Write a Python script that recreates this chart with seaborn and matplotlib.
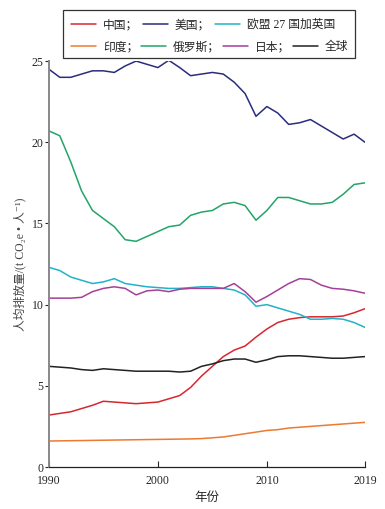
import matplotlib
matplotlib.use("Agg")
import matplotlib.pyplot as plt
import matplotlib.patches as mpatches
import seaborn as sns
import pandas as pd

years = list(range(1990, 2020))

china = [3.2, 3.3, 3.4, 3.6, 3.8, 4.05, 4.0, 3.95, 3.9, 3.95, 4.0, 4.2, 4.4, 4.9, 5.6,
         6.2, 6.8, 7.2, 7.45, 8.0, 8.5, 8.9, 9.1, 9.2, 9.25, 9.25, 9.25, 9.3, 9.5, 9.75]
usa = [24.5, 24.0, 24.0, 24.2, 24.4, 24.4, 24.3, 24.7, 25.0, 24.8, 24.6, 25.05, 24.6, 24.1, 24.2,
       24.3, 24.2, 23.7, 23.0, 21.6, 22.2, 21.8, 21.1, 21.2, 21.4, 21.0, 20.6, 20.2, 20.5, 20.0]
eu_uk = [12.3, 12.1, 11.7, 11.5, 11.3, 11.4, 11.6, 11.3, 11.2, 11.1, 11.05, 11.0, 11.0, 11.05, 11.1,
         11.1, 11.0, 10.9, 10.6, 9.9, 10.0, 9.8, 9.6, 9.4, 9.1, 9.1, 9.15, 9.1, 8.9, 8.6]
india = [1.60, 1.61, 1.62, 1.63, 1.64, 1.65, 1.66, 1.67, 1.68, 1.69, 1.70, 1.71, 1.72, 1.73, 1.75,
         1.80, 1.85, 1.95, 2.05, 2.15, 2.25, 2.30, 2.40, 2.45, 2.50, 2.55, 2.60, 2.65, 2.70, 2.75]
russia = [20.7, 20.4, 18.8, 17.0, 15.8, 15.3, 14.8, 14.0, 13.9, 14.2, 14.5, 14.8, 14.9, 15.5, 15.7,
          15.8, 16.2, 16.3, 16.1, 15.2, 15.8, 16.6, 16.6, 16.4, 16.2, 16.2, 16.3, 16.8, 17.4, 17.5]
japan = [10.4, 10.4, 10.4, 10.45, 10.8, 11.0, 11.1, 11.0, 10.6, 10.85, 10.9, 10.8, 10.95, 11.0, 11.0,
         11.0, 11.0, 11.3, 10.8, 10.15, 10.5, 10.9, 11.3, 11.6, 11.55, 11.2, 11.0, 10.95, 10.85, 10.7]
world = [6.2, 6.15, 6.1, 6.0, 5.95, 6.05, 6.0, 5.95, 5.9, 5.9, 5.9, 5.9, 5.85, 5.9, 6.2,
         6.35, 6.55, 6.65, 6.65, 6.45, 6.6, 6.8, 6.85, 6.85, 6.8, 6.75, 6.7, 6.7, 6.75, 6.8]

names = ["中国", "美国", "欧盟 27 国加英国", "印度", "俄罗斯", "日本", "全球"]
series = [china, usa, eu_uk, india, russia, japan, world]
colors = ["#d8262f", "#2a2d7c", "#20b3c9", "#ec7a32", "#23a468", "#a53f97", "#222222"]

df = pd.concat([pd.DataFrame({"年份": years, "值": s, "地区": n}) for n, s in zip(names, series)])

sns.set_style("ticks")
plt.rcParams["font.family"] = ["Liberation Serif", "Noto Sans CJK SC", "DejaVu Sans"]

fig = plt.figure(figsize=(3.85, 5.09), dpi=100)
ax = fig.add_axes([0.127, 0.0825, 0.821, 0.7975])

sns.lineplot(data=df, x="年份", y="值", hue="地区", hue_order=names,
             palette=dict(zip(names, colors)), linewidth=1.1, ax=ax, legend=False)

ax.set_xlim(1990, 2019)
ax.set_ylim(0, 25)
ax.set_xticks([1990, 2000, 2010, 2019])
ax.set_yticks([0, 5, 10, 15, 20, 25])
ax.set_xlabel("年份", fontsize=9, labelpad=3)
ax.set_ylabel("人均排放量/(t CO₂e • 人⁻¹)", fontsize=8.5, color="#444444", labelpad=4)
ax.tick_params(axis="x", direction="in", length=4, labelsize=8.5, pad=6)
ax.tick_params(axis="y", direction="out", length=3, labelsize=8.5, pad=1)
sns.despine(ax=ax)
ax.spines["left"].set_color("#888888")
ax.spines["left"].set_linewidth(1.4)
ax.spines["bottom"].set_color("#222222")
ax.spines["bottom"].set_linewidth(0.9)

lines = ax.get_lines()
row1 = [n + "；" for n in names[:2]] + [names[2]]
row2 = [n + "；" for n in names[3:6]] + [names[6]]
kw = dict(frameon=False, fontsize=8.5, handlelength=2.1, handletextpad=0.6,
          borderpad=0, borderaxespad=0)
leg1 = fig.legend(lines[:3], row1, ncol=3, loc="center left", bbox_to_anchor=(0.185, 0.951),
                  columnspacing=0.4, **kw)
leg2 = fig.legend(lines[3:], row2, ncol=4, loc="center left", bbox_to_anchor=(0.185, 0.907),
                  columnspacing=0.25, **kw)
fig.add_artist(mpatches.Rectangle((0.164, 0.886), 0.758, 0.094, transform=fig.transFigure,
                                  fill=False, edgecolor="#333333", linewidth=0.9))

fig.savefig("out.png", dpi=100)
